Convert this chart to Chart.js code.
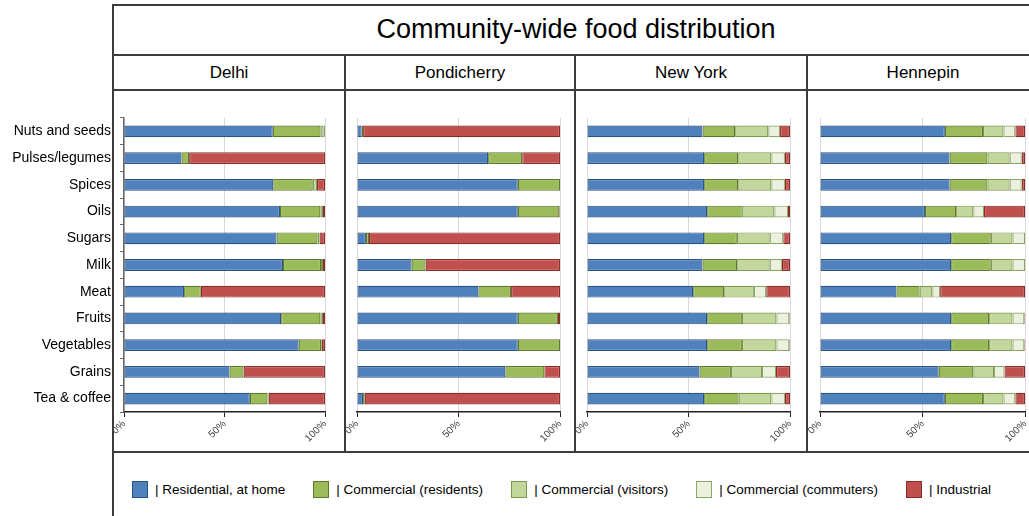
<!DOCTYPE html>
<html>
<head>
<meta charset="utf-8">
<script src="https://cdn.jsdelivr.net/npm/chart.js@4/dist/chart.umd.min.js"></script>
<style>
  html, body { margin: 0; padding: 0; background: #fff; }
  #page { position: relative; width: 1029px; height: 516px; overflow: hidden; font-family: "Liberation Sans", Arial, sans-serif; color: #000; }
  .rule { position: absolute; background: #3c3c3c; }
  .title { position: absolute; left: 113px; width: 926px; top: 5px; height: 50px; line-height: 48px; text-align: center; font-size: 27px; }
  .head { position: absolute; top: 55px; height: 35px; line-height: 36px; text-align: center; font-size: 17px; }
  canvas { position: absolute; top: 90px; }
  #legend { position: absolute; left: 132px; top: 481px; display: flex; align-items: center; white-space: nowrap; font-size: 13.5px; }
  #legend .item { display: flex; align-items: center; margin-right: 28px; }
  #legend .box { width: 14px; height: 15px; margin-right: 7px; border: 1px solid; }
</style>
</head>
<body>
<div id="page">
  <div class="title">Community-wide food distribution</div>
  <div id="heads"></div>
  <canvas id="c0" width="345" height="362" style="left:0px"></canvas>
  <canvas id="c1" width="230" height="362" style="left:345px"></canvas>
  <canvas id="c2" width="232" height="362" style="left:575px"></canvas>
  <canvas id="c3" width="222" height="362" style="left:807px"></canvas>
  <div id="legend"></div>
</div>
<script>
const categories = ['Nuts and seeds', 'Pulses/legumes', 'Spices', 'Oils', 'Sugars', 'Milk', 'Meat', 'Fruits', 'Vegetables', 'Grains', 'Tea & coffee'];
const cities = ['Delhi', 'Pondicherry', 'New York', 'Hennepin'];
const seriesNames = ['| Residential, at home', '| Commercial (residents)', '| Commercial (visitors)', '| Commercial (commuters)', '| Industrial'];
const tickValues = [0, 50, 100];

// share (%) per category, one row per series in seriesNames order
const delhi = [
  [74, 28.6, 74.3, 77.6, 75.9, 79.1, 29.9, 78.2, 86.9, 52.5, 62.6],
  [23.8, 3.8, 19.6, 20.1, 20.4, 18.9, 8.3, 19.5, 11.1, 7, 8.8],
  [1.5, 0, 2.1, 1.3, 1, 1, 0, 1.3, 0.4, 0, 0.6],
  [0.7, 0, 0, 0, 0, 0, 0, 0, 0, 0, 0],
  [0, 67.6, 4, 1, 2.7, 1, 61.8, 1, 1.6, 40.5, 28]
];
const pondicherry = [
  [2.3, 64.6, 79.2, 79.2, 4.4, 26.9, 59.8, 79.2, 79.2, 73.1, 3],
  [0.7, 16.8, 20.8, 20.5, 1.5, 6.9, 16.1, 19.8, 20.8, 19.2, 0.8],
  [0, 0, 0, 0, 0, 0, 0, 0, 0, 0, 0],
  [0, 0, 0, 0, 0, 0, 0, 0, 0, 0, 0],
  [97, 18.6, 0, 0.3, 94.1, 66.2, 24.1, 1, 0, 7.7, 96.2]
];
const newYork = [
  [56.9, 57.7, 57.7, 59.2, 57.7, 56.9, 52.3, 59.2, 59.2, 55.4, 57.7],
  [16.1, 16.8, 16.8, 17, 16.1, 17.1, 15.3, 17.1, 17.1, 15.5, 17],
  [16.3, 16.3, 16.3, 16.1, 16.2, 16, 14.6, 17, 17, 15.3, 16.1],
  [5.8, 6.7, 6.7, 6.7, 6.7, 6, 6.1, 6.4, 6.4, 6.9, 6.7],
  [4.9, 2.5, 2.5, 1, 3.3, 4, 11.7, 0.3, 0.3, 6.9, 2.5]
];
const hennepin = [
  [60.9, 63.2, 63.2, 51.2, 64, 64, 37.3, 64, 64, 57.9, 60.9],
  [18.6, 18.5, 18.5, 15.2, 19.3, 19.3, 11.3, 18.5, 18.5, 16.9, 18.6],
  [10, 10.8, 10.8, 8.4, 10.6, 10.6, 6.2, 11.4, 11.4, 10.1, 10],
  [5.8, 5.9, 5.9, 5.2, 6.1, 6.1, 3.8, 5.8, 5.8, 5.1, 5.8],
  [4.7, 1.6, 1.6, 20, 0, 0, 41.4, 0.3, 0.3, 10, 4.7]
];

const fills = ['#4f81bd', '#9bbb59', '#c3d69b', '#ebf1de', '#c0504d'];
const edges = ['#2a5283', '#5b772a', '#7c984a', '#8ca665', '#8a2d2a'];

// panel column edges of the table frame
const cols = [113, 345, 575, 807, 1039];

function drawPanel(id, rows, o) {
  return new Chart(document.getElementById(id), {
    type: 'bar',
    data: {
      labels: categories,
      datasets: rows.map((vals, i) => ({
        label: seriesNames[i],
        data: vals,
        backgroundColor: fills[i],
        borderColor: edges[i],
        borderWidth: 1.2,
        borderSkipped: false,
        barPercentage: 0.44,
        categoryPercentage: 1
      }))
    },
    options: {
      indexAxis: 'y',
      responsive: false,
      animation: false,
      layout: { padding: { top: 28, left: o.left, right: o.right, bottom: 0 } },
      plugins: { legend: { display: false }, tooltip: { enabled: false } },
      scales: {
        x: {
          stacked: true, min: 0, max: 100,
          afterBuildTicks: (s) => { s.ticks = tickValues.map(v => ({ value: v })); },
          afterFit: (s) => { s.height = 40; s.paddingLeft = 0; s.paddingRight = 0; },
          ticks: { callback: v => v + '%', minRotation: 45, maxRotation: 45, padding: 1, color: '#404040', font: { family: 'Liberation Sans', size: 10 } },
          grid: { color: '#d9d9d9', tickColor: '#222', tickLength: 5 },
          border: { color: '#222', width: 1.5 }
        },
        y: {
          stacked: true,
          display: o.labels,
          afterFit: (s) => { s.width = o.axisWidth || 0; },
          ticks: { color: '#000', padding: 9, font: { family: 'Liberation Sans', size: 14 } },
          grid: { drawOnChartArea: false, tickLength: 4, color: '#666' },
          border: { color: '#666', width: 1.5 }
        }
      }
    }
  });
}

drawPanel('c0', delhi, { labels: true, axisWidth: 124, left: 0, right: 20 });
drawPanel('c1', pondicherry, { labels: false, left: 12, right: 15 });
drawPanel('c2', newYork, { labels: false, left: 12, right: 17 });
drawPanel('c3', hennepin, { labels: false, left: 13, right: 4 });

// table frame and panel headers
const page = document.getElementById('page');
function rule(x, y, w, h) {
  const d = document.createElement('div');
  d.className = 'rule';
  Object.assign(d.style, { left: x + 'px', top: y + 'px', width: w + 'px', height: h + 'px' });
  page.appendChild(d);
}
rule(112, 4, 930, 2);
rule(112, 54, 930, 2);
rule(112, 89, 930, 2);
rule(112, 451, 930, 2);
rule(112, 4, 2, 520);
cols.slice(1, 4).forEach(x => rule(x - 1, 54, 2, 398));

const heads = document.getElementById('heads');
cities.forEach((name, i) => {
  const h = document.createElement('div');
  h.className = 'head';
  h.textContent = name;
  h.style.left = cols[i] + 'px';
  h.style.width = (cols[i + 1] - cols[i]) + 'px';
  heads.appendChild(h);
});

const legend = document.getElementById('legend');
seriesNames.forEach((name, i) => {
  const it = document.createElement('div');
  it.className = 'item';
  const b = document.createElement('span');
  b.className = 'box';
  b.style.background = fills[i];
  b.style.borderColor = edges[i];
  const t = document.createElement('span');
  t.textContent = name;
  it.appendChild(b);
  it.appendChild(t);
  legend.appendChild(it);
});
</script>
</body>
</html>
